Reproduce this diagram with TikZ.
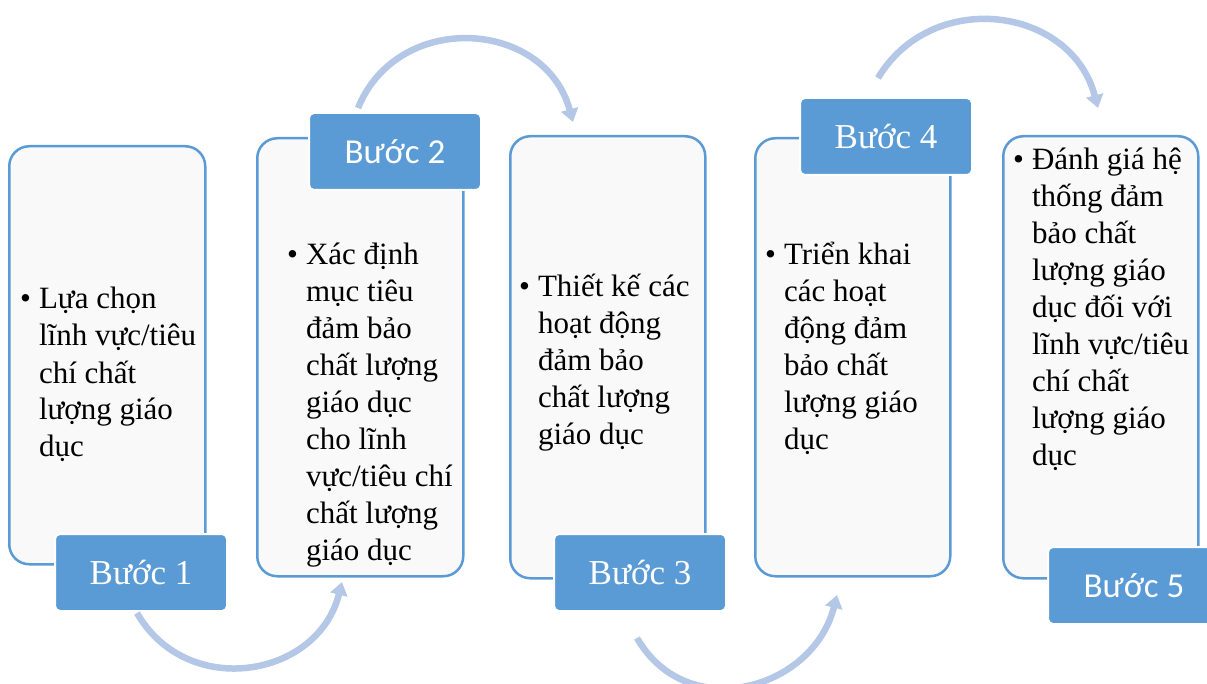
\documentclass[tikz,border=0pt]{standalone}
\usepackage{fontspec}
\setmainfont{Liberation Serif}
\newfontfamily\calibri{Carlito}
\usepackage{tikz}
\usetikzlibrary{arrows.meta,positioning}
\definecolor{stepblue}{HTML}{5B9BD5}
\definecolor{arrowblue}{HTML}{B4C7E7}
\definecolor{boxfill}{HTML}{F9F9F9}
\newcommand{\bullettext}[1]{\begin{tabular}[t]{@{}l@{\hspace{8pt}}l@{}}\textbullet & \begin{tabular}[t]{@{}l@{}}#1\end{tabular}\end{tabular}}

\begin{document}
\begin{tikzpicture}[x=1pt,y=-1pt,
stepbox/.style  = {draw=stepblue, line width=2.5pt, fill=boxfill,
                   rounded corners=20pt, anchor=north west, inner sep=0pt},
steptab/.style  = {fill=stepblue, draw=white, line width=2pt, rounded corners=5pt,
                   text=white, minimum width=172pt, minimum height=77pt,
                   anchor=north west},
steptext/.style = {anchor=base west, inner sep=0pt, font=\fontsize{31}{37}\selectfont},
flow/.style     = {draw=arrowblue, line width=6.5pt, -{Triangle[width=17pt,length=13pt]}}
                        ]
\useasboundingbox (0,0) rectangle (1207,684);
\clip (0,0) rectangle (1207,684);
% boxes
\foreach \i/\x/\y/\w/\h in {1/8/145/196pt/418pt, 2/256/137/206pt/438pt,
                            3/509/135/195pt/442pt, 4/754/137/195pt/438pt,
                            5/1002/135/195pt/442pt}
    \node[stepbox, minimum width=\w, minimum height=\h] (box\i) at (\x,\y) {};
%
\node[steptext] (txt1) at (20,309)
    {\bullettext{Lựa chọn\\lĩnh vực/tiêu\\chí chất\\lượng giáo\\dục}};
\node[steptext] (txt2) at (287,265)
    {\bullettext{Xác định\\mục tiêu\\đảm bảo\\chất lượng\\giáo dục\\cho lĩnh\\vực/tiêu chí\\chất lượng\\giáo dục}};
\node[steptext] (txt3) at (519,297)
    {\bullettext{Thiết kế các\\hoạt động\\đảm bảo\\chất lượng\\giáo dục}};
\node[steptext] (txt4) at (765,265)
    {\bullettext{Triển khai\\các hoạt\\động đảm\\bảo chất\\lượng giáo\\dục}};
\node[steptext] (txt5) at (1013,170)
    {\bullettext{Đánh giá hệ\\thống đảm\\bảo chất\\lượng giáo\\dục đối với\\lĩnh vực/tiêu\\chí chất\\lượng giáo\\dục}};
% tabs
\foreach \i/\x/\y/\f in {1/54/533/\rmfamily, 2/308/112/\calibri, 3/553/533/\rmfamily,
                         4/799/97/\rmfamily, 5/1047/546/\calibri}
    \node[steptab, font=\f\fontsize{35}{40}\selectfont] (tab\i) at (\x,\y) {Bước \i};
% arrows
\coordinate (s1) at (137,613);  \coordinate (e1) at (342,582);
\coordinate (s2) at (358,108);  \coordinate (e2) at (573,122);
\coordinate (s3) at (637,638);  \coordinate (e3) at (837,595);
\coordinate (s4) at (878,78);   \coordinate (e4) at (1098,108);
\draw[flow] (s1) .. controls (187,700) and (318,678) .. (e1);
\draw[flow] (s2) .. controls (398,10) and (545,19) .. (e2);
\draw[flow] (s3) .. controls (687,725) and (813,690) .. (e3);
\draw[flow] (s4) .. controls (932,-12) and (1071,6) .. (e4);
\end{tikzpicture}
\end{document}
